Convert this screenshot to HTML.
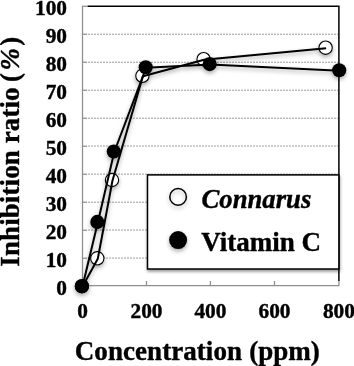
<!DOCTYPE html>
<html lang="en">
<head>
<meta charset="utf-8">
<title>Inhibition ratio vs Concentration</title>
<style>
html,body{margin:0;padding:0;background:#fff;}
body{width:354px;height:366px;overflow:hidden;}
svg{display:block;will-change:transform;font-family:"Liberation Serif",serif;font-weight:bold;fill:#000;}
svg text{stroke:#000;stroke-width:0.4px;stroke-linejoin:round;}
</style>
</head>
<body>
<svg width="354" height="366" viewBox="0 0 354 366">
<defs>
<filter id="sh" x="-30%" y="-30%" width="160%" height="180%">
<feDropShadow dx="0" dy="2.3" stdDeviation="1.9" flood-color="#000" flood-opacity="0.33"/>
</filter>
<filter id="sh2" x="-5%" y="-5%" width="110%" height="120%">
<feDropShadow dx="0.5" dy="2" stdDeviation="1.6" flood-color="#000" flood-opacity="0.40"/>
</filter>
</defs>
<rect x="0" y="0" width="354" height="366" fill="#fff"/>

<g stroke="#5a5a5a" stroke-width="0.6" stroke-dasharray="2 1" fill="none">
<line x1="88" y1="258.05" x2="338.2" y2="258.05"/>
<line x1="88" y1="230.05" x2="338.2" y2="230.05"/>
<line x1="88" y1="202.21" x2="338.2" y2="202.21"/>
<line x1="88" y1="174.12" x2="338.2" y2="174.12"/>
<line x1="88" y1="146.02" x2="338.2" y2="146.02"/>
<line x1="88" y1="118.23" x2="338.2" y2="118.23"/>
<line x1="88" y1="90.23" x2="338.2" y2="90.23"/>
<line x1="88" y1="62.24" x2="338.2" y2="62.24"/>
<line x1="88" y1="34.24" x2="338.2" y2="34.24"/>
</g>
<path d="M87.5 6.25 H338.90 V281" fill="none" stroke="#000" stroke-width="1.5"/>
<g stroke="#8e8e8e" stroke-width="1.25" fill="none">
<line x1="82.50" y1="5.70" x2="82.50" y2="286.10"/>
<line x1="81.95" y1="285.55" x2="339.45" y2="285.55"/>
<line x1="82.50" y1="285.55" x2="87.1" y2="285.55"/>
<line x1="82.50" y1="258.20" x2="87.1" y2="258.20"/>
<line x1="82.50" y1="230.21" x2="87.1" y2="230.21"/>
<line x1="82.50" y1="202.21" x2="87.1" y2="202.21"/>
<line x1="82.50" y1="174.22" x2="87.1" y2="174.22"/>
<line x1="82.50" y1="146.22" x2="87.1" y2="146.22"/>
<line x1="82.50" y1="118.23" x2="87.1" y2="118.23"/>
<line x1="82.50" y1="90.23" x2="87.1" y2="90.23"/>
<line x1="82.50" y1="62.24" x2="87.1" y2="62.24"/>
<line x1="82.50" y1="34.24" x2="87.1" y2="34.24"/>
<line x1="82.50" y1="6.25" x2="87.1" y2="6.25"/>
<line x1="82.50" y1="285.55" x2="82.50" y2="281"/>
<line x1="146.50" y1="285.55" x2="146.50" y2="281"/>
<line x1="210.40" y1="285.55" x2="210.40" y2="281"/>
<line x1="274.50" y1="285.55" x2="274.50" y2="281"/>
<line x1="338.90" y1="285.55" x2="338.90" y2="281"/>
</g>
<g filter="url(#sh)">
<g fill="#fff" stroke="#000" stroke-width="1.1">
<circle cx="81.90" cy="286.20" r="6.65"/>
<circle cx="97.30" cy="258.30" r="6.65"/>
<circle cx="112.00" cy="180.00" r="6.65"/>
<circle cx="142.40" cy="75.80" r="6.65"/>
<circle cx="203.60" cy="59.20" r="6.65"/>
<circle cx="325.60" cy="47.70" r="6.65"/>
</g>
<polyline fill="none" stroke="#000" stroke-width="2" stroke-linejoin="round" points="82.40,286.70 97.80,258.80 112.50,180.50 142.90,76.30 204.10,59.70 326.10,48.20"/>
<polyline fill="none" stroke="#000" stroke-width="2" stroke-linejoin="round" points="82.40,286.70 97.80,222.40 114.25,152.00 146.20,67.70 210.20,64.60 339.70,70.80"/>
<g fill="#000" stroke="none">
<circle cx="81.90" cy="286.20" r="7.05"/>
<circle cx="97.30" cy="221.90" r="7.05"/>
<circle cx="113.75" cy="151.50" r="7.05"/>
<circle cx="145.70" cy="67.20" r="7.05"/>
<circle cx="209.70" cy="64.10" r="7.05"/>
<circle cx="339.20" cy="70.30" r="7.05"/>
</g>
</g>
<rect x="147.5" y="174.9" width="191.40" height="94.1" fill="#fff" stroke="#000" stroke-width="1.5" filter="url(#sh2)"/>
<g filter="url(#sh)">
<circle cx="178.1" cy="196.9" r="8.3" fill="none" stroke="#000" stroke-width="1.5"/>
<circle cx="178.1" cy="240.1" r="9" fill="#000"/>
</g>
<text x="201.5" y="208.3" font-size="26.7" font-style="italic">Connarus</text>
<text x="201.3" y="251.2" font-size="27">Vitamin C</text>
<g font-size="21.33" text-anchor="end">
<text x="67" y="294.80">0</text>
<text x="67" y="266.81">10</text>
<text x="67" y="238.81">20</text>
<text x="67" y="210.81">30</text>
<text x="67" y="182.82">40</text>
<text x="67" y="154.82">50</text>
<text x="67" y="126.83">60</text>
<text x="67" y="98.83">70</text>
<text x="67" y="70.84">80</text>
<text x="67" y="42.84">90</text>
<text x="67" y="14.85">100</text>
</g>
<g font-size="21.33" text-anchor="middle">
<text x="82.50" y="318">0</text>
<text x="146.50" y="318">200</text>
<text x="210.40" y="318">400</text>
<text x="274.50" y="318">600</text>
<text x="338.90" y="318">800</text>
</g>
<text x="74.8" y="360.2" font-size="27"><tspan letter-spacing="0.06">Concentration</tspan> <tspan dx="0.4">(ppm)</tspan></text>
<text transform="translate(18.7 266.7) rotate(-90)" font-size="27" letter-spacing="0.1">Inhibition ratio <tspan dx="-1.5">(</tspan><tspan font-style="italic" dx="2.4">%</tspan><tspan dx="2.2">)</tspan></text>
</svg>
</body>
</html>
